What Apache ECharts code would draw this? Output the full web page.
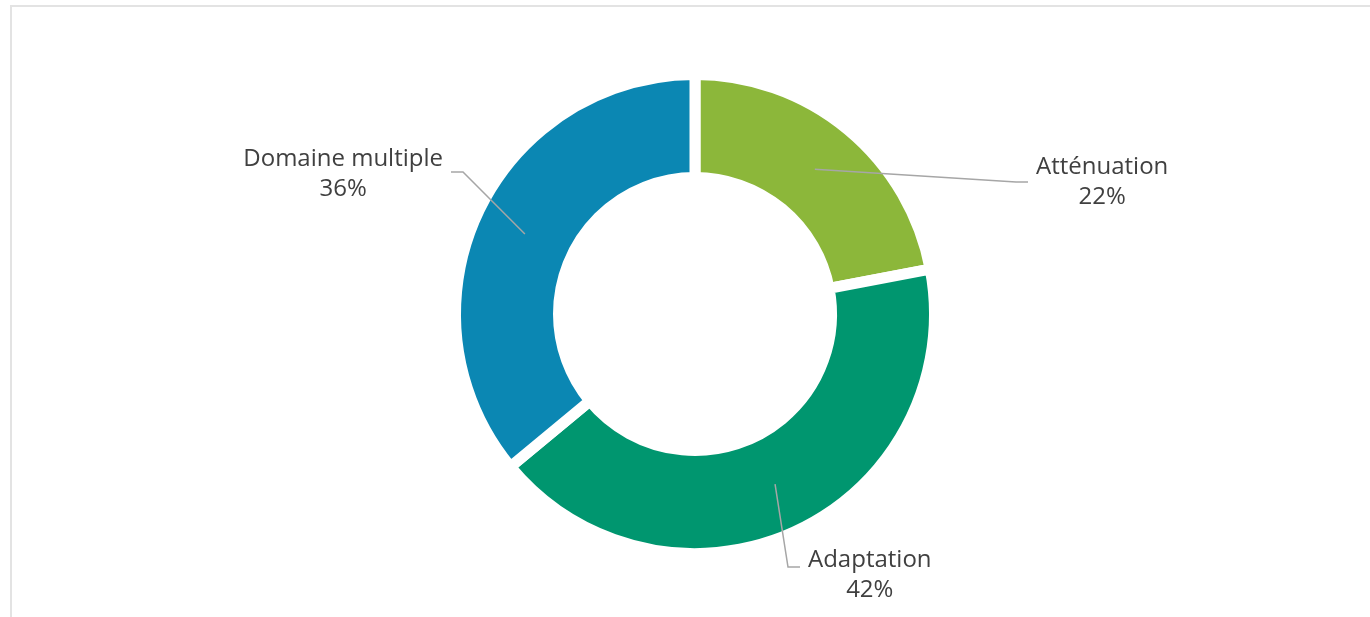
<!DOCTYPE html>
<html>
<head>
<meta charset="utf-8">
<script src="https://cdn.jsdelivr.net/npm/echarts@6/dist/echarts.min.js"></script>
<style>
  html, body { margin: 0; padding: 0; background: #fff; }
  .frame {
    position: absolute; left: 10px; top: 5px; width: 1362px; height: 620px;
    border-top: 2px solid #e3e3e3; border-left: 2px solid #e3e3e3;
  }
  #chart { position: absolute; left: 0; top: 0; width: 1370px; height: 617px; }
</style>
</head>
<body>
<div class="frame"></div>
<div id="chart"></div>
<script>
// données
const categories = ['Atténuation', 'Adaptation', 'Domaine multiple'];
const shares = [22, 42, 36];
const colors = ['#8cb73a', '#00966f', '#0b87b3'];

// ancrage des étiquettes : bord côté ligne, milieu vertical du bloc, décalage de la ligne
const labelAnchors = [
  { x: 1036, y: 182, side: 'left', lineDy: 0 },
  { x: 808, y: 575, side: 'left', lineDy: -8 },
  { x: 443, y: 174, side: 'right', lineDy: -2 }
];

const center = [695, 314];
const gap = 11;
const rInner = 142 - gap / 2, rOuter = 234 + gap / 2;
const rMid = (142 + 234) / 2;

const chart = echarts.init(document.getElementById('chart'));

const ringData = categories.map((name, i) => ({
  name: name,
  value: shares[i],
  itemStyle: { color: colors[i] }
}));
const labelData = categories.map((name, i) => ({
  name: name,
  value: shares[i],
  itemStyle: { color: 'rgba(0,0,0,0)', borderWidth: 0 }
}));

const option = {
  backgroundColor: 'transparent',
  animation: false,
  series: [
    {
      type: 'pie',
      z: 2,
      center: center,
      radius: [rInner, rOuter],
      startAngle: 90,
      clockwise: true,
      data: ringData,
      itemStyle: { borderColor: '#fff', borderWidth: gap },
      label: { show: false },
      labelLine: { show: false },
      emphasis: { disabled: true }
    },
    {
      // même anneau, transparent, pour dessiner étiquettes et lignes au-dessus
      type: 'pie',
      z: 5,
      center: center,
      radius: [rInner, rOuter],
      startAngle: 90,
      clockwise: true,
      percentPrecision: 0,
      silent: true,
      data: labelData,
      label: {
        show: true,
        formatter: '{b}\n{d}%',
        fontFamily: 'Open Sans',
        fontSize: 24,
        lineHeight: 30,
        color: '#404040'
      },
      labelLine: {
        show: true,
        length: 10,
        length2: 10,
        lineStyle: { color: '#a6a6a6', width: 1.5 }
      },
      labelLayout: function (params) {
        const a = labelAnchors[params.dataIndex];
        const w = params.labelRect.width;
        const p0 = params.labelLinePoints ? params.labelLinePoints[0] : center;
        const dx = p0[0] - center[0], dy = p0[1] - center[1];
        const d = Math.sqrt(dx * dx + dy * dy) || 1;
        const start = [center[0] + dx / d * rMid, center[1] + dy / d * rMid];
        const s = a.side === 'left' ? -1 : 1;
        const end = [a.x + s * 8, a.y + a.lineDy];
        const mid = [end[0] + s * 12, end[1]];
        return {
          x: a.side === 'left' ? a.x + w / 2 : a.x - w / 2,
          y: a.y,
          align: 'center',
          verticalAlign: 'middle',
          labelLinePoints: [start, mid, end]
        };
      },
      emphasis: { disabled: true }
    }
  ]
};

chart.setOption(option);
</script>
</body>
</html>
